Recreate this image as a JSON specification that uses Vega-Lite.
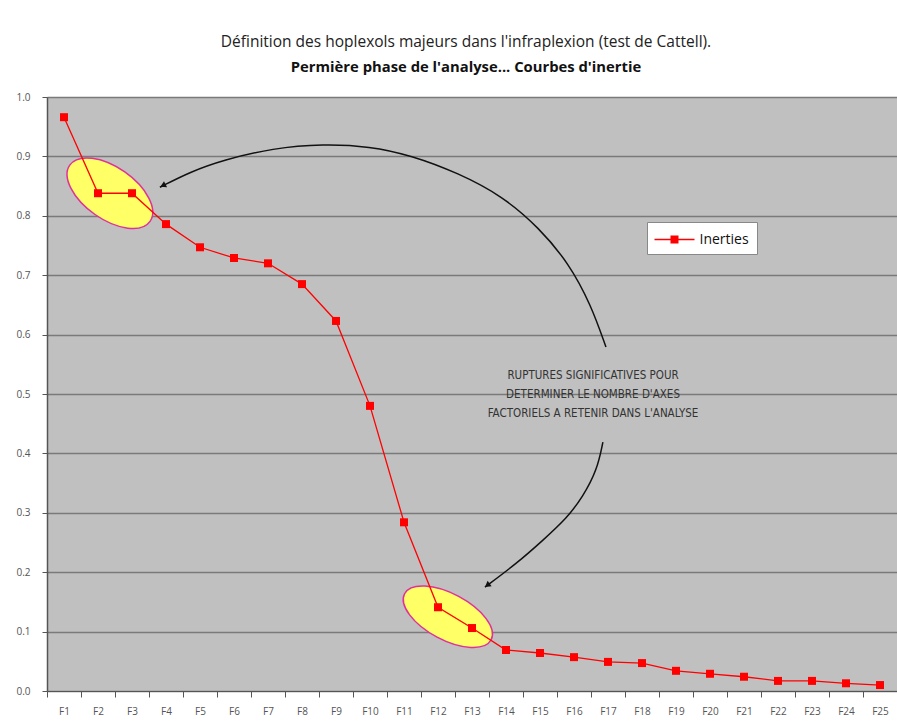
{
  "$schema": "https://vega.github.io/schema/vega-lite/v6.json",
  "width": 850,
  "height": 594,
  "autosize": {"type": "none"},
  "padding": {"left": 47, "top": 97, "right": 0, "bottom": 31},
  "background": "white",
  "title": {
    "text": "Définition des hoplexols majeurs dans l'infraplexion (test de Cattell).",
    "subtitle": "Permière phase de l'analyse... Courbes d'inertie",
    "anchor": "middle",
    "font": "Open Sans",
    "fontSize": 15.5,
    "fontWeight": "normal",
    "color": "#222222",
    "subtitleFont": "Open Sans",
    "subtitleFontSize": 14.8,
    "subtitleFontWeight": "bold",
    "subtitleColor": "#111111",
    "subtitlePadding": 10,
    "offset": 17,
    "dx": -6
  },
  "config": {
    "view": {"fill": "#c0c0c0", "stroke": null},
    "axis": {
      "labelFont": "Open Sans",
      "labelFontSize": 10,
      "labelColor": "#555555",
      "domainColor": "#555555",
      "tickColor": "#555555",
      "title": null
    }
  },
  "datasets": {
    "inerties": [
      {"f": "F1", "v": 0.966, "s": "Inerties"},
      {"f": "F2", "v": 0.838, "s": "Inerties"},
      {"f": "F3", "v": 0.838, "s": "Inerties"},
      {"f": "F4", "v": 0.786, "s": "Inerties"},
      {"f": "F5", "v": 0.747, "s": "Inerties"},
      {"f": "F6", "v": 0.729, "s": "Inerties"},
      {"f": "F7", "v": 0.72, "s": "Inerties"},
      {"f": "F8", "v": 0.685, "s": "Inerties"},
      {"f": "F9", "v": 0.623, "s": "Inerties"},
      {"f": "F10", "v": 0.48, "s": "Inerties"},
      {"f": "F11", "v": 0.284, "s": "Inerties"},
      {"f": "F12", "v": 0.141, "s": "Inerties"},
      {"f": "F13", "v": 0.106, "s": "Inerties"},
      {"f": "F14", "v": 0.069, "s": "Inerties"},
      {"f": "F15", "v": 0.064, "s": "Inerties"},
      {"f": "F16", "v": 0.057, "s": "Inerties"},
      {"f": "F17", "v": 0.049, "s": "Inerties"},
      {"f": "F18", "v": 0.047, "s": "Inerties"},
      {"f": "F19", "v": 0.034, "s": "Inerties"},
      {"f": "F20", "v": 0.029, "s": "Inerties"},
      {"f": "F21", "v": 0.024, "s": "Inerties"},
      {"f": "F22", "v": 0.017, "s": "Inerties"},
      {"f": "F23", "v": 0.017, "s": "Inerties"},
      {"f": "F24", "v": 0.013, "s": "Inerties"},
      {"f": "F25", "v": 0.01, "s": "Inerties"}
    ],
    "arrow1": [
      {"n": 16.94, "v": 0.579},
      {"n": 16.5, "v": 0.65},
      {"n": 15.85, "v": 0.72},
      {"n": 14.97, "v": 0.78},
      {"n": 13.9, "v": 0.833},
      {"n": 12.6, "v": 0.872},
      {"n": 11.2, "v": 0.902},
      {"n": 10.0, "v": 0.917},
      {"n": 8.62, "v": 0.921},
      {"n": 7.15, "v": 0.914},
      {"n": 5.68, "v": 0.894},
      {"n": 4.71, "v": 0.874},
      {"n": 3.82, "v": 0.848}
    ],
    "arrow2": [
      {"n": 16.85, "v": 0.419},
      {"n": 16.68, "v": 0.372},
      {"n": 16.26, "v": 0.327},
      {"n": 15.79, "v": 0.291},
      {"n": 15.09, "v": 0.254},
      {"n": 14.32, "v": 0.215},
      {"n": 13.38, "v": 0.175}
    ]
  },
  "layer": [
    {
      "data": {"values": [{"n": 2.35, "v": 0.838}]},
      "mark": {"type": "point", "filled": true, "shape": "M-1,0A1,0.53,0,1,0,1,0A1,0.53,0,1,0,-1,0Z", "size": 9604, "angle": 35, "fill": "#ffff66", "stroke": "#e0309a", "strokeWidth": 1.5, "opacity": 1, "fillOpacity": 1},
      "encoding": {
        "x": {"field": "n", "type": "quantitative", "scale": {"domain": [0.5, 25.5], "nice": false, "zero": false}, "axis": null},
        "y": {"field": "v", "type": "quantitative", "scale": {"domain": [0, 1], "nice": false}}
      }
    },
    {
      "data": {"values": [{"n": 12.29, "v": 0.125}]},
      "mark": {"type": "point", "filled": true, "shape": "M-1,0A1,0.47,0,1,0,1,0A1,0.47,0,1,0,-1,0Z", "size": 9604, "angle": 28, "fill": "#ffff66", "stroke": "#e0309a", "strokeWidth": 1.5, "opacity": 1, "fillOpacity": 1},
      "encoding": {
        "x": {"field": "n", "type": "quantitative", "scale": {"domain": [0.5, 25.5], "nice": false, "zero": false}, "axis": null},
        "y": {"field": "v", "type": "quantitative", "scale": {"domain": [0, 1], "nice": false}}
      }
    },
    {
      "data": {"name": "inerties"},
      "mark": {"type": "line", "strokeWidth": 1.3, "point": {"shape": "square", "size": 64, "filled": true, "color": "#ff0000", "opacity": 1}},
      "encoding": {
        "x": {
          "field": "f", "type": "nominal", "sort": null,
          "scale": {"type": "band", "paddingInner": 0, "paddingOuter": 0},
          "axis": {"labelAngle": 0, "tickBand": "extent", "tickSize": 6, "labelPadding": 9, "grid": false, "domainColor": "#555555"}
        },
        "y": {
          "field": "v", "type": "quantitative",
          "scale": {"domain": [0, 1], "nice": false},
          "axis": {"values": [0, 0.1, 0.2, 0.3, 0.4, 0.5, 0.6, 0.7, 0.8, 0.9, 1.0], "format": ".1f", "tickSize": 5, "labelPadding": 12, "grid": true, "gridColor": "#7a7a7a", "gridWidth": 1.5, "gridOpacity": 1, "domainWidth": 1.5}
        },
        "color": {
          "field": "s", "type": "nominal",
          "scale": {"range": ["#ff0000"]},
          "legend": {
            "title": null,
            "orient": "none",
            "legendX": 600,
            "legendY": 125,
            "padding": 7.5,
            "fillColor": "white",
            "strokeColor": "#888888",
            "symbolType": "M-1,-0.07H3V0.07H-1Z M0.6,-0.4H1.4V0.4H0.6Z",
            "symbolSize": 400,
            "symbolStrokeWidth": 0,
            "symbolFillColor": "#ff0000",
            "labelFont": "Open Sans",
            "labelFontSize": 14,
            "labelColor": "#111111",
            "labelOffset": 25,
            "encode": {"symbols": {"update": {"fill": {"value": "#ff0000"}, "stroke": {"value": "#ff0000"}, "strokeWidth": {"value": 0}, "opacity": {"value": 1}}}}
          }
        }
      }
    },
    {
      "data": {"name": "arrow1"},
      "mark": {"type": "line", "color": "#111111", "strokeWidth": 1.5, "interpolate": "basis"},
      "encoding": {
        "x": {"field": "n", "type": "quantitative", "scale": {"domain": [0.5, 25.5], "nice": false, "zero": false}, "axis": null},
        "y": {"field": "v", "type": "quantitative", "scale": {"domain": [0, 1], "nice": false}}
      }
    },
    {
      "data": {"name": "arrow2"},
      "mark": {"type": "line", "color": "#111111", "strokeWidth": 1.5, "interpolate": "basis"},
      "encoding": {
        "x": {"field": "n", "type": "quantitative", "scale": {"domain": [0.5, 25.5], "nice": false, "zero": false}, "axis": null},
        "y": {"field": "v", "type": "quantitative", "scale": {"domain": [0, 1], "nice": false}}
      }
    },
    {
      "data": {"values": [{"n": 3.91, "v": 0.851}]},
      "mark": {"type": "point", "shape": "triangle-up", "filled": true, "size": 45, "angle": 243, "color": "#111111", "opacity": 1},
      "encoding": {
        "x": {"field": "n", "type": "quantitative", "scale": {"domain": [0.5, 25.5], "nice": false, "zero": false}, "axis": null},
        "y": {"field": "v", "type": "quantitative", "scale": {"domain": [0, 1], "nice": false}}
      }
    },
    {
      "data": {"values": [{"n": 13.45, "v": 0.178}]},
      "mark": {"type": "point", "shape": "triangle-up", "filled": true, "size": 45, "angle": 233, "color": "#111111", "opacity": 1},
      "encoding": {
        "x": {"field": "n", "type": "quantitative", "scale": {"domain": [0.5, 25.5], "nice": false, "zero": false}, "axis": null},
        "y": {"field": "v", "type": "quantitative", "scale": {"domain": [0, 1], "nice": false}}
      }
    },
    {
      "data": {"values": [{"n": 16.56, "v": 0.53, "t": "RUPTURES SIGNIFICATIVES POUR\nDETERMINER LE NOMBRE D'AXES\nFACTORIELS A RETENIR DANS L'ANALYSE"}]},
      "mark": {"type": "text", "lineBreak": "\n", "lineHeight": 19, "align": "center", "baseline": "middle", "font": "Liberation Sans Narrow, DejaVu Sans Condensed, Open Sans", "fontSize": 11.5, "color": "#333333"},
      "encoding": {
        "x": {"field": "n", "type": "quantitative", "scale": {"domain": [0.5, 25.5], "nice": false, "zero": false}, "axis": null},
        "y": {"field": "v", "type": "quantitative", "scale": {"domain": [0, 1], "nice": false}},
        "text": {"field": "t"}
      }
    }
  ],
  "resolve": {"scale": {"x": "independent"}}
}
